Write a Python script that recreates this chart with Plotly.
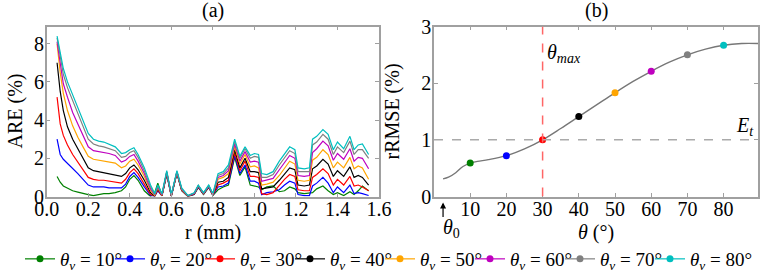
import plotly.graph_objects as go

# ---------------- data (a): ARE vs r ----------------
r_mm = [0.05, 0.065, 0.08, 0.10, 0.125, 0.15, 0.175, 0.20, 0.225, 0.25,
        0.275, 0.30, 0.33, 0.36, 0.38, 0.40, 0.42, 0.44, 0.47, 0.50,
        0.52, 0.535, 0.555, 0.578, 0.60, 0.627, 0.65, 0.68, 0.71, 0.73,
        0.755, 0.78, 0.80, 0.825, 0.85, 0.875, 0.905, 0.93, 0.955, 0.98,
        1.00, 1.02, 1.035, 1.06, 1.09, 1.12, 1.145, 1.17, 1.195, 1.21,
        1.24, 1.265, 1.28, 1.30, 1.33, 1.355, 1.38, 1.40, 1.43, 1.46,
        1.48, 1.50, 1.52, 1.55]

are_10 = [1.05, 0.75, 0.55, 0.42, 0.3, 0.23, 0.15, 0.1, 0.05, 0.12,
          0.15, 0.15, 0.2, 0.3, 0.5, 0.9, 1.1, 0.85, 0.3, 0.0,
          0.2, 0.7, 0.05, 1.15, 0.02, 1.2, 0.3, 0.0, 0.1, 0.48,
          0.1, 0.48, 0.05, 0.35, 0.5, 0.6, 2.05, 1.1, 1.55, 0.6,
          0.55, 0.5, 0.35, 0.5, 0.55, 0.25, 0.3, 0.5, 0.4, 0.2,
          0.15, 0.2, 0.2, 0.4, 0.55, 0.3, 0.1, 0.2, 0.05, 0.25,
          0.1, 0.3, 0.55, 0.3]
are_20 = [3.0, 2.2, 1.95, 1.75, 1.45, 1.2, 0.9, 0.6, 0.5, 0.5,
          0.5, 0.45, 0.45, 0.45, 0.65, 1.05, 1.25, 1.0, 0.5, 0.05,
          0.01, 0.3, 0.03, 1.2, 0.02, 1.23, 0.32, 0.01, 0.12, 0.5,
          0.12, 0.5, 0.07, 0.5, 0.55, 0.7, 2.15, 1.2, 1.65, 0.8,
          0.8, 0.7, 0.1, 0.2, 0.25, 0.35, 0.6, 0.8, 0.7, 0.1,
          0.05, 0.05, 0.55, 0.7, 1.0, 0.7, 0.2, 0.5, 0.2, 0.6,
          0.15, 0.2, 0.15, 0.05]
are_30 = [5.2, 3.8, 3.2, 2.7, 2.2, 1.8, 1.4, 1.0, 0.9, 0.85,
          0.85, 0.8, 0.75, 0.7, 0.9, 1.25, 1.45, 1.2, 0.65, 0.1,
          0.02, 0.35, 0.04, 1.22, 0.03, 1.25, 0.33, 0.02, 0.13, 0.52,
          0.13, 0.52, 0.08, 0.6, 0.7, 0.85, 2.3, 1.35, 1.85, 1.05,
          1.05, 1.0, 0.15, 0.1, 0.2, 0.6, 0.9, 1.15, 1.05, 0.35,
          0.3, 0.3, 1.0, 1.15, 1.45, 1.2, 0.6, 0.9, 0.6, 1.05,
          0.55, 0.6, 0.5, 0.3]
are_40 = [7.0, 5.5, 4.5, 3.65, 3.0, 2.5, 2.0, 1.5, 1.35, 1.3,
          1.25, 1.2, 1.15, 1.05, 1.2, 1.5, 1.65, 1.4, 0.85, 0.2,
          0.03, 0.4, 0.05, 1.25, 0.04, 1.27, 0.35, 0.02, 0.14, 0.54,
          0.14, 0.54, 0.1, 0.75, 0.8, 1.0, 2.45, 1.5, 2.0, 1.3,
          1.3, 1.25, 0.4, 0.45, 0.5, 0.85, 1.2, 1.5, 1.4, 0.6,
          0.55, 0.6, 1.45, 1.6, 1.95, 1.7, 1.05, 1.35, 1.05, 1.55,
          1.0, 1.1, 1.0, 0.6]
are_50 = [8.0, 6.5, 5.4, 4.5, 3.7, 3.1, 2.6, 2.1, 1.95, 1.9,
          1.85, 1.8, 1.75, 1.5, 1.6, 1.85, 1.95, 1.65, 1.05, 0.3,
          0.05, 0.45, 0.06, 1.27, 0.05, 1.28, 0.36, 0.03, 0.15, 0.55,
          0.15, 0.55, 0.1, 0.9, 1.0, 1.2, 2.6, 1.7, 2.2, 1.55,
          1.6, 1.5, 0.6, 0.65, 0.75, 1.1, 1.5, 1.85, 1.7, 0.85,
          0.8, 0.85, 1.9, 2.05, 2.45, 2.2, 1.5, 1.8, 1.5, 2.05,
          1.45, 1.6, 1.5, 0.9]
are_60 = [8.1, 6.9, 5.9, 5.2, 4.4, 3.8, 3.2, 2.6, 2.4, 2.35,
          2.3, 2.25, 2.15, 1.8, 1.9, 2.1, 2.2, 1.85, 1.2, 0.4,
          0.08, 0.5, 0.08, 1.28, 0.06, 1.3, 0.38, 0.04, 0.16, 0.56,
          0.16, 0.56, 0.1, 1.0, 1.1, 1.35, 2.75, 1.85, 2.35, 1.8,
          1.85, 1.8, 0.8, 0.85, 0.95, 1.4, 1.8, 2.15, 2.0, 1.1,
          1.05, 1.1, 2.3, 2.5, 2.9, 2.65, 1.9, 2.25, 1.95, 2.5,
          1.85, 2.05, 2.0, 1.45]
are_70 = [8.3, 7.3, 6.4, 5.7, 5.0, 4.4, 3.7, 3.0, 2.75, 2.65,
          2.6, 2.5, 2.4, 2.05, 2.1, 2.3, 2.4, 2.05, 1.35, 0.5,
          0.1, 0.55, 0.1, 1.3, 0.08, 1.3, 0.4, 0.05, 0.18, 0.58,
          0.18, 0.58, 0.12, 1.1, 1.2, 1.5, 2.9, 2.0, 2.5, 2.0,
          2.1, 2.05, 1.0, 1.0, 1.15, 1.65, 2.05, 2.4, 2.25, 1.3,
          1.3, 1.3, 2.7, 2.85, 3.25, 3.0, 2.2, 2.6, 2.3, 2.9,
          2.2, 2.45, 2.45, 2.0]
are_80 = [8.4, 7.5, 6.7, 6.0, 5.3, 4.7, 4.0, 3.3, 3.0, 2.9,
          2.85, 2.75, 2.6, 2.25, 2.3, 2.45, 2.55, 2.2, 1.5, 0.6,
          0.15, 0.6, 0.15, 1.35, 0.1, 1.35, 0.45, 0.05, 0.2, 0.6,
          0.2, 0.6, 0.15, 1.2, 1.3, 1.65, 3.0, 2.1, 2.6, 2.15,
          2.25, 2.2, 1.2, 1.15, 1.3, 1.85, 2.25, 2.6, 2.45, 1.5,
          1.45, 1.5, 3.0, 3.15, 3.5, 3.25, 2.45, 2.85, 2.5, 3.15,
          2.45, 2.7, 2.75, 2.2]

# ---------------- data (b): rRMSE vs theta ----------------
theta_curve = [2.5, 4, 6, 8, 10, 12, 15, 20, 25, 30, 35, 40, 45, 50, 55,
               60, 65, 70, 75, 80, 85, 89.5]
rrmse_curve = [0.31, 0.34, 0.42, 0.53, 0.59, 0.62, 0.65, 0.72, 0.84, 1.0,
               1.2, 1.41, 1.62, 1.83, 2.03, 2.21, 2.37, 2.50, 2.60, 2.67,
               2.70, 2.70]
theta_v = [10, 20, 30, 40, 50, 60, 70, 80]
rrmse_at_theta_v = [0.59, 0.72, 1.0, 1.41, 1.83, 2.21, 2.50, 2.67]
E_t = 1.0
theta_max = 30
theta_0 = theta_curve[0]

series_labels = ["10", "20", "30", "40", "50", "60", "70", "80"]
colors = ["#008000", "#0000ff", "#ff0000", "#000000",
          "#ffa500", "#bf00bf", "#808080", "#00bfbf"]
are_series = [are_10, are_20, are_30, are_40, are_50, are_60, are_70, are_80]

FONT = "'Liberation Serif', 'Times New Roman', Times, serif"
W, H = 760, 272

fig = go.Figure()

for lab, col, ys in zip(series_labels, colors, are_series):
    fig.add_trace(go.Scatter(x=r_mm, y=ys, mode="lines",
                             line=dict(color=col, width=1.2),
                             xaxis="x", yaxis="y", showlegend=False))

fig.add_trace(go.Scatter(x=theta_curve, y=rrmse_curve, mode="lines",
                         line=dict(color="#777777", width=1.4, shape="spline"),
                         xaxis="x2", yaxis="y2", showlegend=False))

n_items = len(series_labels)
for i, (lab, col, tv, rv) in enumerate(zip(series_labels, colors, theta_v,
                                           rrmse_at_theta_v)):
    fig.add_trace(go.Scatter(x=[tv], y=[rv], mode="lines+markers",
                             line=dict(color=col, width=1.2),
                             marker=dict(color=col, size=7),
                             name="<i>θ</i><sub><i>v</i></sub> = " + lab + "°",
                             legendwidth=60 if i == n_items - 1 else 45,
                             xaxis="x2", yaxis="y2", showlegend=True))

frame = dict(showline=True, linecolor="#a0a0a0", linewidth=1.5, mirror="ticks",
             ticks="inside", ticklen=4, tickcolor="#a0a0a0", tickwidth=1,
             showgrid=False, zeroline=False, automargin=False,
             tickfont=dict(family=FONT, size=20, color="black"))

y_dom = [1 - 196.5 / H, 1 - 26.5 / H]
ann = dict(xref="paper", yref="paper", showarrow=False, xanchor="center",
           yanchor="middle", font=dict(family=FONT, size=20))
fig.update_layout(
    width=W, height=H,
    margin=dict(l=0, r=0, t=0, b=0, autoexpand=False),
    paper_bgcolor="white", plot_bgcolor="white",
    template="none",
    font=dict(family=FONT, size=20, color="black"),
    xaxis=dict(domain=[46.7 / W, 379 / W], range=[0, 1.6], dtick=0.2,
               tickformat=".1f", anchor="y", ticklabelstandoff=-6, **frame),
    yaxis=dict(domain=y_dom, range=[0, 8.9], dtick=2, anchor="x",
               ticklabelstandoff=-3, **frame),
    xaxis2=dict(domain=[434 / W, 758 / W], range=[0, 89.5], dtick=10,
                tickvals=theta_v, anchor="y2", ticklabelstandoff=-6, **frame),
    yaxis2=dict(domain=y_dom, range=[0, 3], dtick=1, anchor="x2",
                ticklabelstandoff=-3, **frame),
    legend=dict(orientation="h", x=20 / W, xanchor="left", y=1 - 259 / H,
                yanchor="middle", font=dict(family=FONT, size=19),
                bgcolor="rgba(0,0,0,0)", itemwidth=30, tracegroupgap=0,
                entrywidthmode="pixels"),
    shapes=[
        dict(type="line", xref="x2", yref="y2", x0=0, x1=89.5, y0=E_t, y1=E_t,
             line=dict(color="#aaaaaa", width=1.5, dash="dash")),
        dict(type="line", xref="x2", yref="y2", x0=theta_max, x1=theta_max,
             y0=0, y1=3, line=dict(color="#ff6666", width=1.5, dash="dash")),
    ],
    annotations=[
        dict(ann, text="(a)", x=(46.7 + 379) / 2 / W, y=1 - 11 / H),
        dict(ann, text="(b)", x=(434 + 758) / 2 / W, y=1 - 11 / H),
        dict(ann, text="ARE (%)", x=15 / W, y=1 - 111.5 / H, textangle=-90),
        dict(ann, text="rRMSE (%)", x=392 / W, y=1 - 111.5 / H, textangle=-90),
        dict(ann, text="r (mm)", x=(46.7 + 379) / 2 / W, y=1 - 232 / H),
        dict(ann, text="<i>θ</i> (°)", x=(434 + 758) / 2 / W, y=1 - 232 / H),
        dict(text="<i>θ<sub>max</sub></i>", x=theta_max, y=2.53, xref="x2",
             yref="y2", xanchor="left", yanchor="middle", showarrow=False,
             xshift=2, font=dict(family=FONT, size=20)),
        dict(text="<i>E<sub>t</sub></i>", x=82.8, y=E_t, xref="x2",
             yref="y2", xanchor="left", yanchor="bottom", showarrow=False,
             yshift=-1, font=dict(family=FONT, size=20)),
        dict(text="", x=theta_0, y=0, xref="x2", yref="y2",
             showarrow=True, arrowhead=2, arrowsize=1, arrowwidth=1.2,
             arrowcolor="black", ax=0, ay=16, yshift=-6),
        dict(text="<i>θ</i><sub>0</sub>", x=theta_0, y=0, xref="x2", yref="y2",
             xanchor="left", yanchor="top", showarrow=False, yshift=-17,
             xshift=-2, font=dict(family=FONT, size=20)),
    ],
)

fig.write_html("out.html", config={"displayModeBar": False},
               post_script="document.body.style.margin='0px';")
